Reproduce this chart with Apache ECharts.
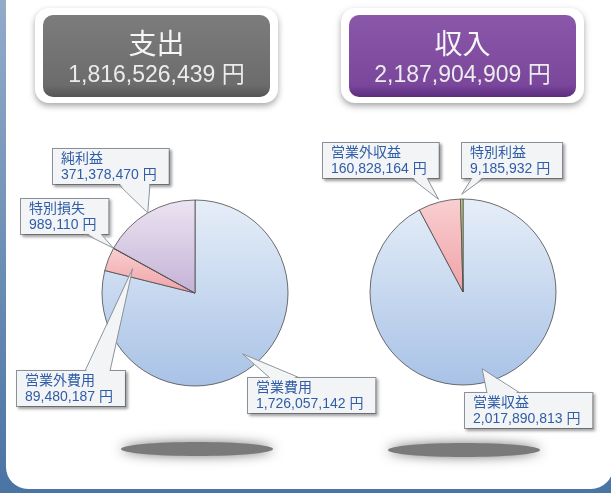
<!DOCTYPE html>
<html>
<head>
<meta charset="utf-8">
<script src="https://cdn.jsdelivr.net/npm/echarts@6/dist/echarts.min.js"></script>
<style>
html, body { margin: 0; padding: 0; }
body { background: linear-gradient(#93abc9, #4a74a4); }
#main { width: 611px; height: 493px; }
</style>
</head>
<body>
<div id="main"></div>
<script>
// 支出
const expenseNames = ['営業費用', '営業外費用', '特別損失', '純利益'];
const expenseValues = [1726057142, 89480187, 989110, 371378470];
// 収入
const incomeNames = ['営業収益', '営業外収益', '特別利益'];
const incomeValues = [2017890813, 160828164, 9185932];

const headerTitles = ['支出', '収入'];

// layout
const pieRadius = 93;
const pieCenters = [[195, 293], [463, 292]];
const boxHeight = 35;
const expenseLabelPos = [[248, 378], [17, 371], [21, 199], [53, 149]];
const expenseBase = [[22, 52], [68, 93], [64, 80], [65, 97]];
const expenseTip = [0.83, 0.72, 1.0, 1.0];
const incomeLabelPos = [[465, 393], [323, 143], [462, 143]];
const incomeBase = [[22, 55], [88, 104], [10, 22]];
const incomeTip = [0.85, 1.03, 1.05];

const FONT = '"Liberation Sans", "Noto Sans CJK JP", sans-serif';

function fmt(v) {
    return String(v).replace(/\B(?=(\d{3})+(?!\d))/g, ',');
}

function grad(top, bottom) {
    return new echarts.graphic.LinearGradient(0, 0, 0, 1, [
        { offset: 0, color: top },
        { offset: 1, color: bottom }
    ]);
}

const blue = grad('#e6eef8', '#a8c2e6');
const pink = grad('#f9cfd1', '#f0a2a7');
const purple = grad('#ebe4f1', '#c5b2d7');
const expenseColors = [blue, pink, '#6f7d3c', purple];
const incomeColors = [blue, pink, '#c9d67e'];

function pieSeries(names, values, colors, center, labelPos) {
    return {
        type: 'pie',
        center: center,
        radius: pieRadius,
        startAngle: 90,
        clockwise: true,
        silent: true,
        animation: false,
        avoidLabelOverlap: false,
        data: names.map((n, i) => ({ name: n, value: values[i], itemStyle: { color: colors[i] } })),
        itemStyle: { borderColor: '#4a4a4a', borderWidth: 0.8 },
        label: {
            show: true,
            position: 'outside',
            overflow: 'none',
            formatter: p => p.name + '\n' + fmt(p.value) + ' 円',
            color: '#2f5da8',
            fontFamily: FONT,
            fontSize: 14,
            lineHeight: 16,
            backgroundColor: '#f3f4f5',
            borderColor: '#8c9299',
            borderWidth: 1,
            padding: [2, 12, 1, 8],
            shadowColor: 'rgba(0,0,0,0.3)',
            shadowBlur: 3,
            shadowOffsetX: 2,
            shadowOffsetY: 2
        },
        labelLine: { show: false },
        labelLayout: p => ({
            x: labelPos[p.dataIndex][0],
            y: labelPos[p.dataIndex][1],
            align: 'left',
            verticalAlign: 'top'
        })
    };
}

// callout pointers from each label box to its slice
function pointers(values, center, labelPos, base, tipFactor) {
    const total = values.reduce((a, b) => a + b, 0);
    let cum = 0;
    const els = [];
    values.forEach((v, i) => {
        const mid = (cum + v / 2) / total * Math.PI * 2;
        cum += v;
        const r = pieRadius * tipFactor[i];
        const tip = [center[0] + r * Math.sin(mid), center[1] - r * Math.cos(mid)];
        const bx = labelPos[i][0], by = labelPos[i][1];
        const below = tip[1] > by;
        const edgeY = below ? by + boxHeight : by;
        const inner = below ? edgeY - 1.5 : edgeY + 1.5;
        els.push({
            type: 'polygon', z: 10,
            shape: { points: [[bx + base[i][0] + 0.5, inner], tip, [bx + base[i][1] - 0.5, inner]] },
            style: { fill: '#f3f4f5' }
        });
        els.push({
            type: 'polyline', z: 10,
            shape: { points: [[bx + base[i][0], edgeY], tip, [bx + base[i][1], edgeY]] },
            style: { stroke: '#8c9299', lineWidth: 1, fill: null }
        });
    });
    return els;
}

function header(x, title, total, top, mid, bottom) {
    return {
        type: 'group',
        children: [
            {
                type: 'rect',
                shape: { x: x - 8, y: 8, width: 243, height: 95, r: 14 },
                style: { fill: '#ffffff', shadowColor: 'rgba(0,0,0,0.35)', shadowBlur: 6, shadowOffsetY: 3 }
            },
            {
                type: 'rect',
                shape: { x: x, y: 15, width: 227, height: 82, r: 10 },
                style: {
                    fill: new echarts.graphic.LinearGradient(0, 0, 0, 1, [
                        { offset: 0, color: top },
                        { offset: 0.85, color: mid },
                        { offset: 1, color: bottom }
                    ])
                }
            },
            {
                type: 'text',
                x: x + 113.5, y: 43,
                style: { text: title, fill: '#f6f6f6', font: '28px "Noto Sans CJK JP", sans-serif', align: 'center', verticalAlign: 'middle' }
            },
            {
                type: 'text',
                x: x + 113.5, y: 76,
                style: { text: fmt(total) + ' 円', fill: '#ececec', font: '23px ' + FONT, align: 'center', verticalAlign: 'middle' }
            }
        ]
    };
}

const expenseTotal = expenseValues.slice(0, 3).reduce((a, b) => a + b, 0);
const incomeTotal = incomeValues.reduce((a, b) => a + b, 0);

const chart = echarts.init(document.getElementById('main'), null, { renderer: 'canvas' });

const option = {
    animation: false,
    graphic: [
        {
            type: 'rect',
            shape: { x: 6, y: -40, width: 607, height: 529, r: 22 },
            style: { fill: '#ffffff' }
        },
        header(43, headerTitles[0], expenseTotal, '#7c7c7c', '#6c6c6c', '#555555'),
        header(349, headerTitles[1], incomeTotal, '#8a57a9', '#7a479c', '#5b2c7e'),
        {
            type: 'ellipse',
            shape: { cx: 197, cy: 449, rx: 76, ry: 7 },
            style: { fill: '#7a7a7a', shadowColor: '#7a7a7a', shadowBlur: 12 }
        },
        {
            type: 'ellipse',
            shape: { cx: 464, cy: 450, rx: 76, ry: 7 },
            style: { fill: '#7a7a7a', shadowColor: '#7a7a7a', shadowBlur: 12 }
        }
    ]
        .concat(pointers(expenseValues, pieCenters[0], expenseLabelPos, expenseBase, expenseTip))
        .concat(pointers(incomeValues, pieCenters[1], incomeLabelPos, incomeBase, incomeTip)),
    series: [
        pieSeries(expenseNames, expenseValues, expenseColors, pieCenters[0], expenseLabelPos),
        pieSeries(incomeNames, incomeValues, incomeColors, pieCenters[1], incomeLabelPos)
    ]
};

chart.setOption(option);
</script>
</body>
</html>
